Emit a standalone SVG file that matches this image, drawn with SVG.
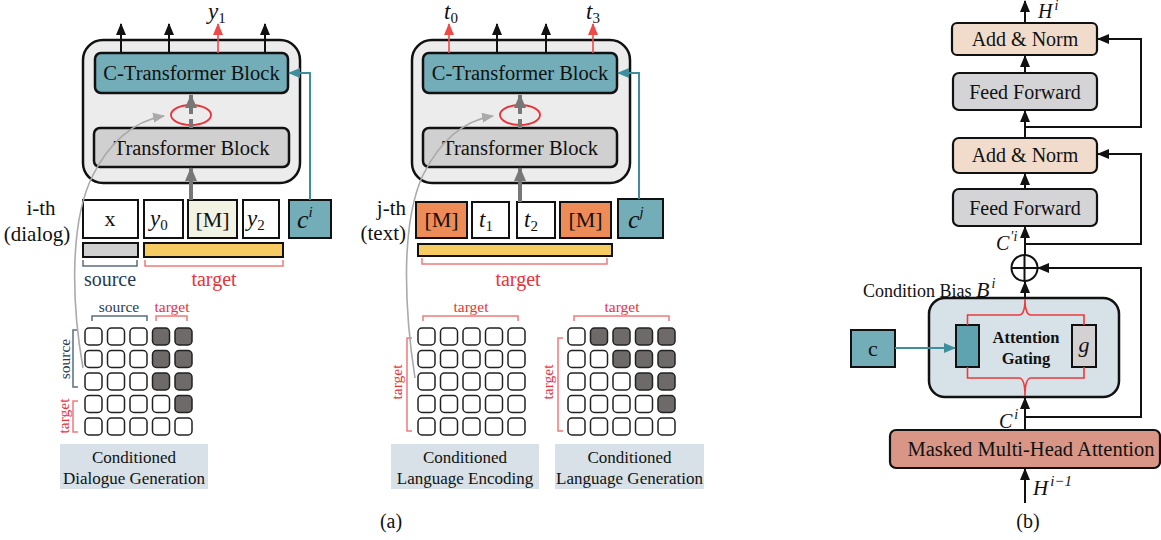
<svg xmlns="http://www.w3.org/2000/svg" width="1161" height="540" viewBox="0 0 1161 540">
<style>
text{font-family:"Liberation Serif","Times New Roman",serif;fill:#111}
.m{font-style:italic}
.ctr{text-anchor:middle}
.out{fill:#ececec;stroke:#111;stroke-width:2.5}
.ctb{fill:#72adb8;stroke:#111;stroke-width:2.5}
.tb{fill:#d0d0d0;stroke:#111;stroke-width:2.5}
.tok{fill:#fff;stroke:#111;stroke-width:2}
.cell{fill:#fff;stroke:#222;stroke-width:1.5}
.dk{fill:#6e6a6a;stroke:#222;stroke-width:1.5}
.cap{fill:#d7e1e7}
.red{fill:#e8333a}
.navy{fill:#1f3b52}
.ln{fill:none;stroke:#111;stroke-width:2}
.rb{fill:none;stroke:#f07a7a;stroke-width:1.5}
.nb{fill:none;stroke:#5a6e7e;stroke-width:1.5}
</style>
<defs>
<marker id="ab" markerUnits="userSpaceOnUse" markerWidth="12" markerHeight="12" viewBox="0 0 12 12" refX="11" refY="6" orient="auto"><path d="M0,1 L12,6 L0,11 Z" fill="#111"/></marker>
<marker id="ar" markerUnits="userSpaceOnUse" markerWidth="12" markerHeight="12" viewBox="0 0 12 12" refX="11" refY="6" orient="auto"><path d="M0,1 L12,6 L0,11 Z" fill="#ee4a4a"/></marker>
<marker id="at" markerUnits="userSpaceOnUse" markerWidth="12" markerHeight="12" viewBox="0 0 12 12" refX="11" refY="6" orient="auto"><path d="M0,1 L12,6 L0,11 Z" fill="#3f8e9c"/></marker>
<marker id="ag" markerUnits="userSpaceOnUse" markerWidth="14" markerHeight="14" viewBox="0 0 14 14" refX="13" refY="7" orient="auto"><path d="M0,1 L14,7 L0,13 Z" fill="#777"/></marker>
<marker id="al" markerUnits="userSpaceOnUse" markerWidth="12" markerHeight="12" viewBox="0 0 12 12" refX="11" refY="6" orient="auto"><path d="M0,1 L12,6 L0,11 Z" fill="#aaa"/></marker>
</defs>

<!-- ===== Panel (a) left ===== -->
<g id="dialog-block">
<rect class="out" x="83" y="40" width="217" height="143" rx="20"/>
<rect class="ctb" x="95" y="53" width="193" height="40" rx="6"/>
<text class="ctr" x="191.5" y="80" font-size="20.5">C-Transformer Block</text>
<rect class="tb" x="94" y="128" width="195" height="39" rx="6"/>
<text class="ctr" x="191.5" y="155" font-size="20.5">Transformer Block</text>
<ellipse cx="191" cy="115" rx="20" ry="10" fill="none" stroke="#e8333a" stroke-width="1.8"/>
</g>
<g id="dialog-tokens">
<text class="ctr" x="41" y="215" font-size="21">i-th</text>
<text class="ctr" x="37" y="241" font-size="21">(dialog)</text>
<rect class="tok" x="83" y="200" width="55" height="38"/>
<text class="ctr" x="110" y="226" font-size="22">x</text>
<rect class="tok" x="144" y="200" width="39" height="38"/>
<text class="m" x="150" y="226" font-size="23">y<tspan font-size="15" font-style="normal" dy="4">0</tspan></text>
<rect class="tok" x="188" y="200" width="49" height="38" style="fill:#f3f3e3"/>
<text class="ctr" x="212.5" y="227" font-size="22">[M]</text>
<rect class="tok" x="243" y="200" width="36" height="38"/>
<text class="m" x="247" y="226" font-size="23">y<tspan font-size="15" font-style="normal" dy="4">2</tspan></text>
<rect x="289" y="200" width="42" height="38" fill="#72adb8" stroke="#111" stroke-width="2"/>
<text class="m" x="297" y="228" font-size="26">c<tspan font-size="15" dy="-11">i</tspan></text>
<rect x="83" y="243" width="55" height="14" fill="#d0d0d0" stroke="#111" stroke-width="2"/>
<rect x="144" y="243" width="139" height="14" fill="#f6cb62" stroke="#111" stroke-width="2"/>
<path class="nb" d="M83,260 V266 H137 V260"/>
<path class="rb" d="M145,260 V266 H283 V260"/>
<text class="ctr navy" x="110" y="286" font-size="20">source</text>
<text class="ctr red" x="214" y="286" font-size="20">target</text>
</g>
<g id="dialog-matrix">
<text class="ctr navy" x="119" y="312" font-size="15.5">source</text>
<text class="ctr red" x="172" y="312" font-size="15.5">target</text>
<path class="nb" d="M92,321 V316 H147 V321"/>
<path class="rb" d="M156,321 V316 H187 V321"/>
<path class="nb" d="M78,330 H73 V387 H78"/>
<path class="rb" d="M78,401 H73 V432 H78"/>
<text class="ctr navy" font-size="15.5" transform="translate(70,359) rotate(-90)">source</text>
<text class="ctr red" font-size="15.5" transform="translate(69,416) rotate(-90)">target</text>
<g>
<rect class="cell" x="85" y="328" width="17" height="17" rx="4"/><rect class="cell" x="107.5" y="328" width="17" height="17" rx="4"/><rect class="cell" x="130" y="328" width="17" height="17" rx="4"/><rect class="dk" x="152.5" y="328" width="17" height="17" rx="4"/><rect class="dk" x="175" y="328" width="17" height="17" rx="4"/>
<rect class="cell" x="85" y="350.5" width="17" height="17" rx="4"/><rect class="cell" x="107.5" y="350.5" width="17" height="17" rx="4"/><rect class="cell" x="130" y="350.5" width="17" height="17" rx="4"/><rect class="dk" x="152.5" y="350.5" width="17" height="17" rx="4"/><rect class="dk" x="175" y="350.5" width="17" height="17" rx="4"/>
<rect class="cell" x="85" y="373" width="17" height="17" rx="4"/><rect class="cell" x="107.5" y="373" width="17" height="17" rx="4"/><rect class="cell" x="130" y="373" width="17" height="17" rx="4"/><rect class="dk" x="152.5" y="373" width="17" height="17" rx="4"/><rect class="dk" x="175" y="373" width="17" height="17" rx="4"/>
<rect class="cell" x="85" y="395.5" width="17" height="17" rx="4"/><rect class="cell" x="107.5" y="395.5" width="17" height="17" rx="4"/><rect class="cell" x="130" y="395.5" width="17" height="17" rx="4"/><rect class="cell" x="152.5" y="395.5" width="17" height="17" rx="4"/><rect class="dk" x="175" y="395.5" width="17" height="17" rx="4"/>
<rect class="cell" x="85" y="418" width="17" height="17" rx="4"/><rect class="cell" x="107.5" y="418" width="17" height="17" rx="4"/><rect class="cell" x="130" y="418" width="17" height="17" rx="4"/><rect class="cell" x="152.5" y="418" width="17" height="17" rx="4"/><rect class="cell" x="175" y="418" width="17" height="17" rx="4"/>
</g>
<rect class="cap" x="60" y="444" width="148" height="45"/>
<text class="ctr" x="134" y="463" font-size="17">Conditioned</text>
<text class="ctr" x="134" y="484" font-size="17">Dialogue Generation</text>
</g>

<!-- ===== Panel (a) middle ===== -->
<g id="text-block">
<rect class="out" x="412" y="40" width="218" height="143" rx="20"/>
<rect class="ctb" x="423" y="53" width="194" height="40" rx="6"/>
<text class="ctr" x="520" y="80" font-size="20.5">C-Transformer Block</text>
<rect class="tb" x="423" y="128" width="194" height="39" rx="6"/>
<text class="ctr" x="520" y="155" font-size="20.5">Transformer Block</text>
<ellipse cx="520" cy="115" rx="20" ry="10" fill="none" stroke="#e8333a" stroke-width="1.8"/>
</g>
<g id="text-tokens">
<text x="406" y="215" font-size="21" text-anchor="end">j-th</text>
<text x="406" y="240" font-size="21" text-anchor="end">(text)</text>
<rect class="tok" x="416" y="202" width="51" height="36" style="fill:#ee8c57"/>
<text class="ctr" x="441.5" y="227" font-size="22">[M]</text>
<rect class="tok" x="472" y="202" width="37" height="36"/>
<text class="m" x="479" y="227" font-size="23">t<tspan font-size="15" font-style="normal" dy="4">1</tspan></text>
<rect class="tok" x="517" y="202" width="38" height="36"/>
<text class="m" x="524" y="227" font-size="23">t<tspan font-size="15" font-style="normal" dy="4">2</tspan></text>
<rect class="tok" x="560" y="202" width="51" height="36" style="fill:#ee8c57"/>
<text class="ctr" x="585.5" y="227" font-size="22">[M]</text>
<rect x="618" y="199" width="45" height="39" fill="#72adb8" stroke="#111" stroke-width="2"/>
<text class="m" x="628" y="228" font-size="26">c<tspan font-size="15" dy="-11">j</tspan></text>
<rect x="418" y="244" width="194" height="12" fill="#f6cb62" stroke="#111" stroke-width="2"/>
<path class="rb" d="M422,258 V264 H607 V258"/>
<text class="ctr red" x="518" y="286" font-size="20">target</text>
</g>
<g id="encoding-matrix">
<text class="ctr red" x="471" y="312" font-size="15.5">target</text>
<path class="rb" d="M423,321 V316 H518 V321"/>
<path class="rb" d="M412,338 H407 V431 H412"/>
<text class="ctr red" font-size="15.5" transform="translate(402,382) rotate(-90)">target</text>
<g>
<rect class="cell" x="418" y="328" width="17" height="17" rx="4"/><rect class="cell" x="440.5" y="328" width="17" height="17" rx="4"/><rect class="cell" x="463" y="328" width="17" height="17" rx="4"/><rect class="cell" x="485.5" y="328" width="17" height="17" rx="4"/><rect class="cell" x="508" y="328" width="17" height="17" rx="4"/>
<rect class="cell" x="418" y="350.5" width="17" height="17" rx="4"/><rect class="cell" x="440.5" y="350.5" width="17" height="17" rx="4"/><rect class="cell" x="463" y="350.5" width="17" height="17" rx="4"/><rect class="cell" x="485.5" y="350.5" width="17" height="17" rx="4"/><rect class="cell" x="508" y="350.5" width="17" height="17" rx="4"/>
<rect class="cell" x="418" y="373" width="17" height="17" rx="4"/><rect class="cell" x="440.5" y="373" width="17" height="17" rx="4"/><rect class="cell" x="463" y="373" width="17" height="17" rx="4"/><rect class="cell" x="485.5" y="373" width="17" height="17" rx="4"/><rect class="cell" x="508" y="373" width="17" height="17" rx="4"/>
<rect class="cell" x="418" y="395.5" width="17" height="17" rx="4"/><rect class="cell" x="440.5" y="395.5" width="17" height="17" rx="4"/><rect class="cell" x="463" y="395.5" width="17" height="17" rx="4"/><rect class="cell" x="485.5" y="395.5" width="17" height="17" rx="4"/><rect class="cell" x="508" y="395.5" width="17" height="17" rx="4"/>
<rect class="cell" x="418" y="418" width="17" height="17" rx="4"/><rect class="cell" x="440.5" y="418" width="17" height="17" rx="4"/><rect class="cell" x="463" y="418" width="17" height="17" rx="4"/><rect class="cell" x="485.5" y="418" width="17" height="17" rx="4"/><rect class="cell" x="508" y="418" width="17" height="17" rx="4"/>
</g>
<rect class="cap" x="391" y="444" width="148" height="45"/>
<text class="ctr" x="465" y="463" font-size="17">Conditioned</text>
<text class="ctr" x="465" y="484" font-size="17">Language Encoding</text>
</g>
<g id="generation-matrix">
<text class="ctr red" x="622" y="312" font-size="15.5">target</text>
<path class="rb" d="M574,321 V316 H669 V321"/>
<path class="rb" d="M563,338 H558 V431 H563"/>
<text class="ctr red" font-size="15.5" transform="translate(553,382) rotate(-90)">target</text>
<g>
<rect class="cell" x="568" y="328" width="17" height="17" rx="4"/><rect class="dk" x="590.5" y="328" width="17" height="17" rx="4"/><rect class="dk" x="613" y="328" width="17" height="17" rx="4"/><rect class="dk" x="635.5" y="328" width="17" height="17" rx="4"/><rect class="dk" x="658" y="328" width="17" height="17" rx="4"/>
<rect class="cell" x="568" y="350.5" width="17" height="17" rx="4"/><rect class="cell" x="590.5" y="350.5" width="17" height="17" rx="4"/><rect class="dk" x="613" y="350.5" width="17" height="17" rx="4"/><rect class="dk" x="635.5" y="350.5" width="17" height="17" rx="4"/><rect class="dk" x="658" y="350.5" width="17" height="17" rx="4"/>
<rect class="cell" x="568" y="373" width="17" height="17" rx="4"/><rect class="cell" x="590.5" y="373" width="17" height="17" rx="4"/><rect class="cell" x="613" y="373" width="17" height="17" rx="4"/><rect class="dk" x="635.5" y="373" width="17" height="17" rx="4"/><rect class="dk" x="658" y="373" width="17" height="17" rx="4"/>
<rect class="cell" x="568" y="395.5" width="17" height="17" rx="4"/><rect class="cell" x="590.5" y="395.5" width="17" height="17" rx="4"/><rect class="cell" x="613" y="395.5" width="17" height="17" rx="4"/><rect class="cell" x="635.5" y="395.5" width="17" height="17" rx="4"/><rect class="dk" x="658" y="395.5" width="17" height="17" rx="4"/>
<rect class="cell" x="568" y="418" width="17" height="17" rx="4"/><rect class="cell" x="590.5" y="418" width="17" height="17" rx="4"/><rect class="cell" x="613" y="418" width="17" height="17" rx="4"/><rect class="cell" x="635.5" y="418" width="17" height="17" rx="4"/><rect class="cell" x="658" y="418" width="17" height="17" rx="4"/>
</g>
<rect class="cap" x="555" y="444" width="149" height="45"/>
<text class="ctr" x="629.5" y="463" font-size="17">Conditioned</text>
<text class="ctr" x="629.5" y="484" font-size="17">Language Generation</text>
</g>

<!-- ===== Panel (b) ===== -->
<g id="add-norm-2">
<rect x="952" y="23" width="145" height="32" rx="5" fill="#f1dccb" stroke="#111" stroke-width="2.2"/>
<text class="ctr" x="1025" y="46" font-size="20">Add &amp; Norm</text>
</g>
<g id="feed-forward-2">
<rect x="953" y="73" width="144" height="37" rx="6" fill="#d4d4d6" stroke="#111" stroke-width="2.2"/>
<text class="ctr" x="1025" y="99" font-size="20">Feed Forward</text>
</g>
<g id="add-norm-1">
<rect x="953" y="138" width="144" height="35" rx="6" fill="#f1dccb" stroke="#111" stroke-width="2.2"/>
<text class="ctr" x="1025" y="162" font-size="20">Add &amp; Norm</text>
</g>
<g id="feed-forward-1">
<rect x="953" y="189" width="144" height="37" rx="6" fill="#d4d4d6" stroke="#111" stroke-width="2.2"/>
<text class="ctr" x="1025" y="215" font-size="20">Feed Forward</text>
</g>
<g id="oplus">
<circle cx="1024.5" cy="268" r="13" fill="#fff" stroke="#111" stroke-width="2"/>
<path d="M1011.5,268 H1037.5 M1024.5,255 V281" stroke="#111" stroke-width="2"/>
</g>
<g id="attention-gating">
<rect x="929" y="298" width="190" height="99" rx="16" fill="#d6e1e8" stroke="#111" stroke-width="2.5"/>
<rect x="956" y="325" width="23" height="42" fill="#5fa3b0" stroke="#111" stroke-width="2"/>
<rect x="1072" y="325" width="24" height="42" fill="#d3d1d1" stroke="#111" stroke-width="2"/>
<text class="m ctr" x="1084" y="352" font-size="22">g</text>
<text class="ctr" x="1026" y="343" font-size="16.5" font-weight="bold">Attention</text>
<text class="ctr" x="1026" y="364" font-size="16.5" font-weight="bold">Gating</text>
<path d="M967.5,325 V315 H1019 Q1025,315 1025,299 Q1025,315 1031,315 H1084 V325" fill="none" stroke="#ee3a3a" stroke-width="1.6"/>
<path d="M967.5,367 V378 H1019 Q1025,378 1025,396 Q1025,378 1031,378 H1084 V367" fill="none" stroke="#ee3a3a" stroke-width="1.6"/>
</g>
<g id="condition-c">
<rect x="851" y="330" width="44" height="37" fill="#72adb8" stroke="#111" stroke-width="2"/>
<text class="ctr" x="873" y="356" font-size="22">c</text>
</g>
<g id="masked-mha">
<rect x="890" y="430" width="270" height="38" rx="6" fill="#d99686" stroke="#111" stroke-width="2.2"/>
<text class="ctr" x="1031" y="456" font-size="20.5">Masked Multi-Head Attention</text>
</g>
<g id="b-labels">
<text class="m" x="1038" y="18" font-size="20">H<tspan font-size="14" dy="-8" dx="2">i</tspan></text>
<text class="m" x="996" y="250" font-size="20">C<tspan font-size="14" dy="-9" dx="1">′i</tspan></text>
<text x="863" y="297" font-size="18">Condition Bias <tspan class="m" font-size="22">B</tspan><tspan class="m" font-size="14" dy="-9" dx="2">i</tspan></text>
<text class="m" x="999" y="428" font-size="20">C<tspan font-size="14" dy="-9" dx="2">i</tspan></text>
<text class="m" x="1033" y="495" font-size="21">H<tspan font-size="15" dy="-9" dx="2">i−1</tspan></text>
<text class="ctr" x="1028" y="528" font-size="20">(b)</text>
</g>
<text class="ctr" x="391" y="528" font-size="20">(a)</text>

<!-- output labels -->
<text class="m" x="208" y="19" font-size="23">y<tspan font-size="15" font-style="normal" dy="4">1</tspan></text>
<text class="m" x="444" y="19" font-size="23">t<tspan font-size="15" font-style="normal" dy="4">0</tspan></text>
<text class="m" x="586" y="19" font-size="23">t<tspan font-size="15" font-style="normal" dy="4">3</tspan></text>

<!-- ===== Connectors ===== -->
<g id="connectors">
<path class="ln" stroke-width="1.6" d="M121,53 V24" marker-end="url(#ab)"/>
<path class="ln" stroke-width="1.6" d="M169,53 V24" marker-end="url(#ab)"/>
<path d="M218,53 V24" stroke="#ee4a4a" stroke-width="1.6" marker-end="url(#ar)"/>
<path class="ln" stroke-width="1.6" d="M265,53 V24" marker-end="url(#ab)"/>
<path d="M191,200 V168" stroke="#777" stroke-width="4" marker-end="url(#ag)"/>
<path d="M191,128 V95" stroke="#777" stroke-width="4" stroke-dasharray="9 5" marker-end="url(#ag)"/>
<path d="M310,200 V73 H289" fill="none" stroke="#3f8e9c" stroke-width="2" marker-end="url(#at)"/>
<path d="M83,368 C71,300 70,220 93,175 C108,145 132,121 164,116" fill="none" stroke="#aaa" stroke-width="1.6" marker-end="url(#al)"/>
<path d="M449,53 V24" stroke="#ee4a4a" stroke-width="1.6" marker-end="url(#ar)"/>
<path class="ln" stroke-width="1.6" d="M497,53 V24" marker-end="url(#ab)"/>
<path class="ln" stroke-width="1.6" d="M546,53 V24" marker-end="url(#ab)"/>
<path d="M593,53 V24" stroke="#ee4a4a" stroke-width="1.6" marker-end="url(#ar)"/>
<path d="M520,202 V168" stroke="#777" stroke-width="4" marker-end="url(#ag)"/>
<path d="M520,128 V95" stroke="#777" stroke-width="4" stroke-dasharray="9 5" marker-end="url(#ag)"/>
<path d="M639,199 V73 H618" fill="none" stroke="#3f8e9c" stroke-width="2" marker-end="url(#at)"/>
<path d="M415,378 C403,300 402,220 423,175 C438,145 461,121 493,116" fill="none" stroke="#aaa" stroke-width="1.6" marker-end="url(#al)"/>
<path class="ln" d="M1025,503 V469" marker-end="url(#ab)"/>
<path class="ln" d="M1025,430 V398" marker-end="url(#ab)"/>
<path class="ln" d="M1025,298 V282" marker-end="url(#ab)"/>
<path class="ln" d="M1025,255 V227" marker-end="url(#ab)"/>
<path class="ln" d="M1025,189 V174" marker-end="url(#ab)"/>
<path class="ln" d="M1025,138 V111" marker-end="url(#ab)"/>
<path class="ln" d="M1025,73 V56" marker-end="url(#ab)"/>
<path class="ln" d="M1025,23 V1" marker-end="url(#ab)"/>
<path class="ln" d="M1025,417 H1141 V268 H1038" marker-end="url(#ab)"/>
<path class="ln" d="M1025,244 H1141 V154 H1098" marker-end="url(#ab)"/>
<path class="ln" d="M1025,127 H1141 V39 H1098" marker-end="url(#ab)"/>
<path d="M895,348 H955" stroke="#3f8e9c" stroke-width="2" marker-end="url(#at)"/>
</g>
</svg>
